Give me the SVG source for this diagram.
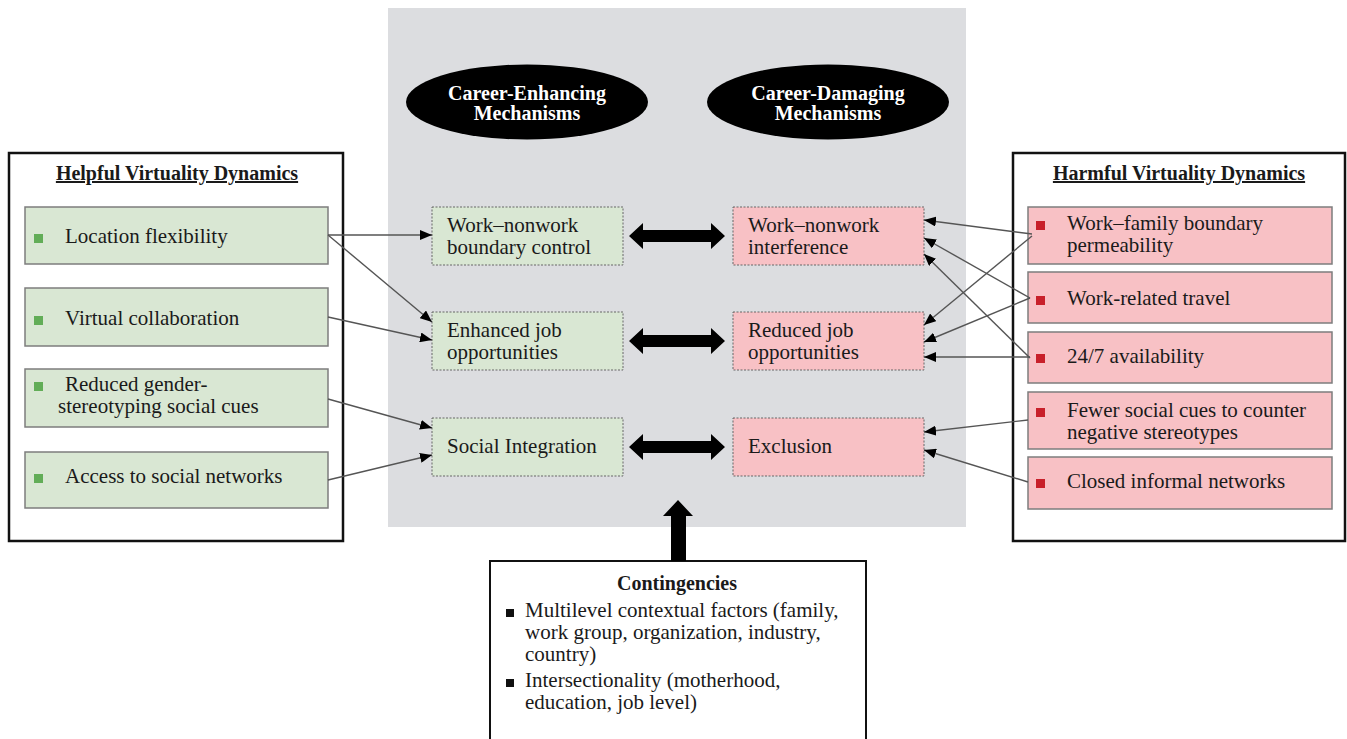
<svg xmlns="http://www.w3.org/2000/svg" width="1347" height="739" viewBox="0 0 1347 739">
<style>
text{font-family:"Liberation Serif","Times New Roman",serif;font-size:21px;fill:#1a1a1a}
.b{font-weight:bold;font-size:20px}
.t{font-weight:bold;font-size:20px;text-decoration:underline;text-anchor:middle}
.w{fill:#fff;font-weight:bold;font-size:20px;text-anchor:middle}
.outer{fill:#fff;stroke:#111;stroke-width:2.5}
.gb{fill:#d9e7d3;stroke:#7d7d7d;stroke-width:1.5}
.rb{fill:#f8c1c5;stroke:#7d7d7d;stroke-width:1.5}
.gm{fill:#d9e7d3;stroke:#666;stroke-width:1;stroke-dasharray:2 1.5}
.rm{fill:#f8c1c5;stroke:#666;stroke-width:1;stroke-dasharray:2 1.5}
.gs{fill:#62ad57}
.rs{fill:#c8202a}
.ks{fill:#111}
.c{stroke:#555;stroke-width:1.4;fill:none;marker-end:url(#ah)}
</style>
<defs>
<marker id="ah" markerUnits="userSpaceOnUse" markerWidth="12" markerHeight="10" refX="12" refY="5" orient="auto">
<path d="M0,0 L12,5 L0,10 Z" fill="#000"/>
</marker>
<path id="dbl" d="M-48,0 L-34,-13 L-34,-6 L34,-6 L34,-13 L48,0 L34,13 L34,6 L-34,6 L-34,13 Z" fill="#000"/>
</defs>

<rect id="panel" x="388" y="8" width="578" height="519" fill="#dcdde0"/>

<g id="ellipse-enhancing">
<ellipse cx="527" cy="102" rx="121" ry="37.5" fill="#000"/>
<text class="w" x="527" y="100">Career-Enhancing</text>
<text class="w" x="527" y="120">Mechanisms</text>
</g>
<g id="ellipse-damaging">
<ellipse cx="828" cy="102" rx="121" ry="37.5" fill="#000"/>
<text class="w" x="828" y="100">Career-Damaging</text>
<text class="w" x="828" y="120">Mechanisms</text>
</g>

<g id="helpful">
<rect class="outer" x="9" y="153" width="334" height="388"/>
<text class="t" x="177" y="180">Helpful Virtuality Dynamics</text>
</g>
<g id="h1"><rect class="gb" x="25" y="207" width="303" height="57"/><rect class="gs" x="34" y="234" width="9" height="9"/><text x="65" y="243">Location flexibility</text></g>
<g id="h2"><rect class="gb" x="25" y="288" width="303" height="58"/><rect class="gs" x="34" y="316" width="9" height="9"/><text x="65" y="325">Virtual collaboration</text></g>
<g id="h3"><rect class="gb" x="25" y="369" width="303" height="58"/><rect class="gs" x="34" y="382" width="9" height="9"/><text x="65" y="391">Reduced gender-</text><text x="58" y="413">stereotyping social cues</text></g>
<g id="h4"><rect class="gb" x="25" y="452" width="303" height="56"/><rect class="gs" x="34" y="474" width="9" height="9"/><text x="65" y="483">Access to social networks</text></g>

<g id="harmful">
<rect class="outer" x="1013" y="153" width="332" height="388"/>
<text class="t" x="1179" y="180">Harmful Virtuality Dynamics</text>
</g>
<g id="r1"><rect class="rb" x="1028" y="207" width="304" height="57"/><rect class="rs" x="1036" y="221" width="9" height="9"/><text x="1067" y="230">Work–family boundary</text><text x="1067" y="252">permeability</text></g>
<g id="r2"><rect class="rb" x="1028" y="272" width="304" height="51"/><rect class="rs" x="1036" y="296" width="9" height="9"/><text x="1067" y="305">Work-related travel</text></g>
<g id="r3"><rect class="rb" x="1028" y="332" width="304" height="51"/><rect class="rs" x="1036" y="354" width="9" height="9"/><text x="1067" y="363">24/7 availability</text></g>
<g id="r4"><rect class="rb" x="1028" y="392" width="304" height="57"/><rect class="rs" x="1036" y="408" width="9" height="9"/><text x="1067" y="417">Fewer social cues to counter</text><text x="1067" y="439">negative stereotypes</text></g>
<g id="r5"><rect class="rb" x="1028" y="457" width="304" height="52"/><rect class="rs" x="1036" y="479" width="9" height="9"/><text x="1067" y="488">Closed informal networks</text></g>

<g id="m-boundary"><rect class="gm" x="432" y="207" width="191" height="58"/><text x="447" y="232">Work–nonwork</text><text x="447" y="254">boundary control</text></g>
<g id="m-enhanced"><rect class="gm" x="432" y="312" width="191" height="58"/><text x="447" y="337">Enhanced job</text><text x="447" y="359">opportunities</text></g>
<g id="m-social"><rect class="gm" x="432" y="418" width="191" height="58"/><text x="447" y="453">Social Integration</text></g>
<g id="m-interference"><rect class="rm" x="733" y="207" width="191" height="58"/><text x="748" y="232">Work–nonwork</text><text x="748" y="254">interference</text></g>
<g id="m-reduced"><rect class="rm" x="733" y="312" width="191" height="58"/><text x="748" y="337">Reduced job</text><text x="748" y="359">opportunities</text></g>
<g id="m-exclusion"><rect class="rm" x="733" y="418" width="191" height="58"/><text x="748" y="453">Exclusion</text></g>

<g id="contingencies">
<rect x="490" y="561" width="376" height="200" fill="#fff" stroke="#111" stroke-width="2"/>
<text class="b" x="677" y="590" text-anchor="middle">Contingencies</text>
<rect class="ks" x="506" y="609" width="8" height="8"/>
<text x="525" y="617">Multilevel contextual factors (family,</text>
<text x="525" y="639">work group, organization, industry,</text>
<text x="525" y="661">country)</text>
<rect class="ks" x="506" y="679" width="8" height="8"/>
<text x="525" y="687">Intersectionality (motherhood,</text>
<text x="525" y="709">education, job level)</text>
</g>

<g id="connectors">
<line class="c" x1="328" y1="235" x2="432" y2="235"/>
<line class="c" x1="328" y1="235" x2="432" y2="322"/>
<line class="c" x1="328" y1="317" x2="432" y2="340"/>
<line class="c" x1="328" y1="399" x2="432" y2="428"/>
<line class="c" x1="328" y1="480" x2="432" y2="455"/>
<line class="c" x1="1032" y1="234" x2="924" y2="220"/>
<line class="c" x1="1032" y1="236" x2="924" y2="325"/>
<line class="c" x1="1030" y1="298" x2="924" y2="238"/>
<line class="c" x1="1030" y1="298" x2="924" y2="342"/>
<line class="c" x1="1030" y1="358" x2="924" y2="254"/>
<line class="c" x1="1030" y1="357" x2="924" y2="357"/>
<line class="c" x1="1028" y1="420" x2="924" y2="432"/>
<line class="c" x1="1028" y1="482" x2="924" y2="450"/>
<use href="#dbl" x="677" y="236"/>
<use href="#dbl" x="677" y="341"/>
<use href="#dbl" x="677" y="447"/>
<path d="M678,500 L693,516 L686,516 L686,561 L671,561 L671,516 L663,516 Z" fill="#000"/>
</g>
</svg>
